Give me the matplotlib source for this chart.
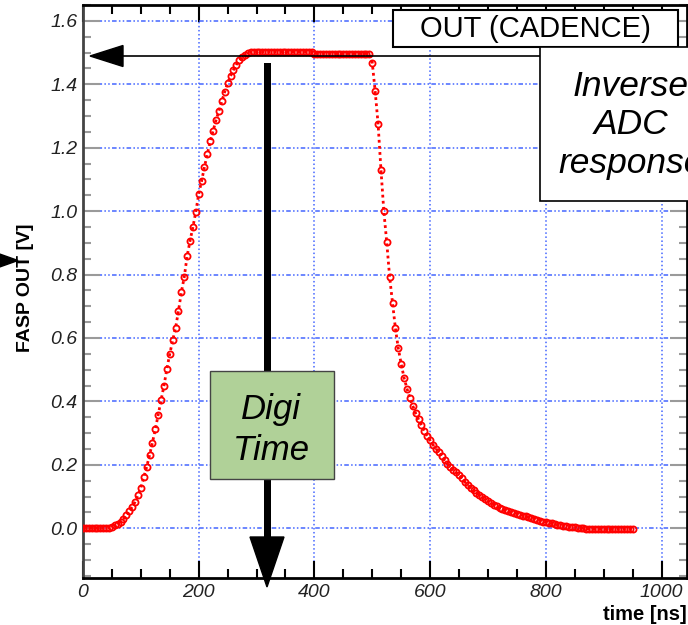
import matplotlib
matplotlib.use("Agg")
import matplotlib.pyplot as plt
import numpy as np
from matplotlib.patches import Polygon, Rectangle
from matplotlib.lines import Line2D
from matplotlib.ticker import MultipleLocator

plt.rcParams["font.family"] = ["Liberation Sans", "DejaVu Sans"]

t_step_ns = 5
fasp_out_v = [
    0.000, 0.000, 0.000, 0.000, 0.000, 0.000, 0.000, 0.000, 0.000,          # 0-40
    0.002, 0.005, 0.009, 0.014, 0.021, 0.030, 0.041, 0.053, 0.067, 0.083,   # 45-90
    0.104, 0.128, 0.160, 0.193, 0.230, 0.270, 0.312, 0.358, 0.405, 0.450,   # 95-140
    0.503, 0.550, 0.592, 0.632, 0.685, 0.744, 0.792, 0.858, 0.906, 0.950,   # 145-190
    0.998, 1.054, 1.095, 1.140, 1.181, 1.221, 1.254, 1.287, 1.316, 1.346,   # 195-240
    1.377, 1.404, 1.426, 1.445, 1.462, 1.475, 1.486, 1.493, 1.498, 1.501,   # 245-290
    1.502,                                                                  # 295
    1.502, 1.502, 1.502, 1.502, 1.502, 1.502, 1.502, 1.502, 1.502, 1.502,   # 300-345
    1.502, 1.502, 1.502, 1.502, 1.502, 1.502, 1.502, 1.502, 1.502, 1.502,   # 350-395
    1.497, 1.497, 1.497, 1.497, 1.497, 1.497, 1.497, 1.497, 1.497, 1.497,   # 400-445
    1.497, 1.497, 1.497, 1.497, 1.497, 1.497, 1.497, 1.497, 1.497, 1.497,   # 450-495
    1.468, 1.378, 1.276, 1.131, 0.999, 0.902, 0.792, 0.710, 0.630, 0.567,   # 500-545
    0.518, 0.474, 0.440, 0.410, 0.386, 0.362, 0.343, 0.325, 0.306, 0.291,   # 550-595
    0.277, 0.263, 0.251, 0.239, 0.227, 0.214, 0.203, 0.194, 0.185, 0.176,   # 600-645
    0.167, 0.157, 0.146, 0.136, 0.128, 0.120, 0.112, 0.105, 0.098, 0.092,   # 650-695
    0.086, 0.080, 0.074, 0.069, 0.064, 0.060, 0.056, 0.053, 0.050, 0.048,   # 700-745
    0.046, 0.043, 0.040, 0.037, 0.035, 0.033, 0.030, 0.027, 0.024, 0.021,   # 750-795
    0.019, 0.017, 0.015, 0.013, 0.011, 0.009, 0.008, 0.007, 0.005, 0.004,   # 800-845
    0.003, 0.002, 0.001, 0.000, -0.001, -0.002,                             # 850-875
    -0.003, -0.003, -0.003, -0.003, -0.003, -0.003, -0.003, -0.003,         # 880-915
    -0.003, -0.003, -0.003, -0.003, -0.003, -0.003, -0.003,                 # 920-950
]
time_ns = np.arange(len(fasp_out_v)) * t_step_ns

x_ticks = [0, 200, 400, 600, 800, 1000]
x_tick_labels = ["0", "200", "400", "600", "800", "1000"]
y_ticks = [0.0, 0.2, 0.4, 0.6, 0.8, 1.0, 1.2, 1.4, 1.6]
y_tick_labels = ["0.0", "0.2", "0.4", "0.6", "0.8", "1.0", "1.2", "1.4", "1.6"]

W, H = 688, 625


def fx(x):
    return x / W


def fy(y):
    return 1 - y / H


def fig_rect(x0, y0, x1, y1, **kw):
    return Rectangle((fx(x0), fy(y1)), (x1 - x0) / W, (y1 - y0) / H,
                     transform=fig.transFigure, **kw)


def fig_poly(pts, **kw):
    return Polygon([(fx(x), fy(y)) for x, y in pts], closed=True,
                   transform=fig.transFigure, **kw)


fig = plt.figure(figsize=(6.88, 6.25), dpi=100)
ax = fig.add_axes([fx(83), fy(578), fx(687) - fx(83), fy(5) - fy(578)])

ax.plot(time_ns, fasp_out_v, color="red", ls=(0, (1, 1.2)), lw=2,
        marker="o", ms=4.4, mfc="none", mec="red", mew=1.3, zorder=3)

ax.set_xlim(0, 1044)
ax.set_ylim(-0.157, 1.650)

ax.set_xticks(x_ticks)
ax.set_xticklabels(x_tick_labels, fontstyle="italic", fontsize=14)
ax.set_yticks(y_ticks)
ax.set_yticklabels(y_tick_labels, fontstyle="italic", fontsize=14)
ax.xaxis.set_minor_locator(MultipleLocator(50))
ax.yaxis.set_minor_locator(MultipleLocator(0.05))

ax.tick_params(axis="x", which="both", direction="in", top=True, bottom=True,
               color="black", width=1.5)
ax.tick_params(axis="x", which="major", length=12, pad=4, labelcolor="#222222")
ax.tick_params(axis="x", which="minor", length=6.5)
ax.tick_params(axis="y", which="both", direction="in", left=True, right=True,
               color="#9a9a9a", width=1.5)
ax.tick_params(axis="y", which="major", length=12, pad=4, labelcolor="#222222")
ax.tick_params(axis="y", which="minor", length=6)

ax.grid(axis="x", which="major", ls=":", color="#4466ff", lw=1.1)
ax.grid(axis="y", which="major", ls=(0, (3, 1.5, 1, 1.5, 1, 1.5)),
        color="#4466ff", lw=1.1)
ax.set_axisbelow(True)

for side in ["top", "bottom", "right"]:
    ax.spines[side].set_linewidth(2)
    ax.spines[side].set_color("black")
ax.spines["left"].set_linewidth(2)
ax.spines["left"].set_color("#444444")

fig.text(fx(687), fy(614), "time [ns]", ha="right", va="center",
         fontsize=14.5, fontweight="bold")
fig.text(fx(25), fy(288), "FASP OUT [V]", ha="center", va="center",
         rotation=90, fontsize=14, fontweight="bold")

# horizontal arrow pointing to the plateau
fig.add_artist(Line2D([fx(123), fx(540)], [fy(56), fy(56)],
                      transform=fig.transFigure, color="black", lw=1.2, zorder=4))
fig.add_artist(fig_poly([(90, 56), (123, 45.5), (123, 66.5)],
                        fc="black", ec="black", zorder=4))

# vertical "digi time" arrow
fig.add_artist(fig_rect(263.5, 63, 270.5, 538, fc="black", ec="none", zorder=4))
fig.add_artist(fig_poly([(250, 537), (284, 537), (267, 587)],
                        fc="black", ec="black", zorder=4))

# small arrowhead at left edge
fig.add_artist(fig_poly([(-6, 252), (-6, 269), (18, 260.5)],
                        fc="black", ec="black", zorder=4))

# legend-like title box
fig.add_artist(fig_rect(393, 10, 678, 47, fc="white", ec="black", lw=1.5, zorder=5))
fig.text(fx(535.5), fy(29), "OUT (CADENCE)", ha="center", va="center",
         fontsize=21, zorder=6)

# inverse ADC response box (runs past the right edge, as in the original)
fig.add_artist(fig_rect(540, 47, 725, 201, fc="white", ec="black", lw=1.2, zorder=5))
fig.text(fx(631), fy(125), "Inverse\nADC\nresponse", ha="center", va="center",
         fontsize=25.5, fontstyle="italic", linespacing=1.2, zorder=6)

# digi time box
fig.add_artist(fig_rect(210, 371, 334, 479, fc="#b0d198", ec="#444444", lw=1, zorder=5))
fig.text(fx(271), fy(430), "Digi\nTime", ha="center", va="center",
         fontsize=25, fontstyle="italic", linespacing=1.3, zorder=6)

fig.savefig("out.png", dpi=100)
